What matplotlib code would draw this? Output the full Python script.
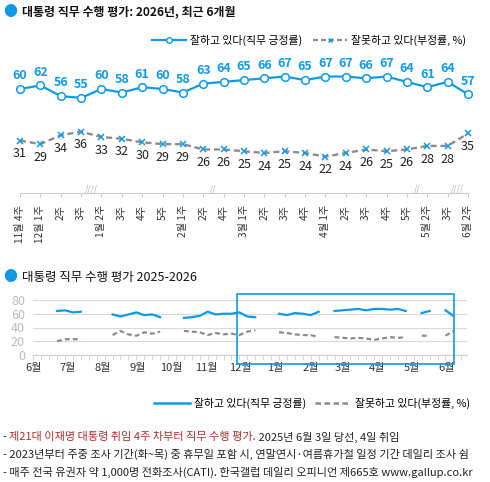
import numpy as np
import pandas as pd
import matplotlib
matplotlib.use('Agg')
import matplotlib.pyplot as plt
import matplotlib.dates as mdates
from matplotlib.lines import Line2D
from matplotlib.patches import Rectangle
from matplotlib.ticker import FixedLocator, FixedFormatter

plt.rcParams['font.family'] = ['Noto Sans CJK KR', 'DejaVu Sans']

BLUE = '#1199e6'
GRAY = '#8c8c8c'
RED = '#a8302f'

# top chart: last 6 months, one point per survey week
week_labels = ['11월 4주', '12월 1주', '2주', '3주', '1월 2주', '3주', '4주', '5주',
               '2월 1주', '2주', '4주', '3월 1주', '2주', '3주', '4주', '4월 1주',
               '2주', '3주', '4주', '5주', '5월 2주', '3주', '6월 2주']
approve = [60, 62, 56, 55, 60, 58, 61, 60, 58, 63, 64, 65, 66, 67, 65, 67, 67, 66, 67, 64, 61, 64, 57]
disapprove = [31, 29, 34, 36, 33, 32, 30, 29, 29, 26, 26, 25, 24, 25, 24, 22, 24, 26, 25, 26, 28, 28, 35]
break_after = [3, 9, 19, 21]      # skipped weeks after these points
break_marks = ['////', '//', '//', '////']

# bottom chart: weekly series from 2025-06-01 (None = no survey)
start_week = '2025-06-01'
approve_all = [None, None, None, 64, 65, 62, 63, None, None, None,
               59, 56, 59, 62, 58, 59, 55, None, None,
               54, 55, 57, 63, 59, 60, 60, 62, 56, 55, None, None,
               60, 58, 61, 60, 58, 63, None,
               64, 65, 66, 67, 65, 67, 67, 66, 67, 64, None,
               61, 64, None, 65, 57]
disapprove_all = [None, None, None, 20, 23, 23, 23, None, None, None,
                  29, 35, 30, 28, 33, 31, 34, None, None,
                  35, 34, 33, 29, 32, 30, 31, 29, 34, 36, None, None,
                  33, 32, 30, 29, 29, 26, None,
                  26, 25, 24, 25, 24, 22, 24, 26, 25, 26, None,
                  28, 28, None, 28, 35]
month_labels = ['6월', '7월', '8월', '9월', '10월', '11월', '12월',
                '1월', '2월', '3월', '4월', '5월', '6월']

notes = [
    [('- ', '#222222'), ('제21대 이재명 대통령 취임 4주 차부터 직무 수행 평가.', RED),
     (' 2025년 6월 3일 당선, 4일 취임', '#222222')],
    [('- 2023년부터 주중 조사 기간(화~목) 중 휴무일 포함 시, 연말연시·여름휴가철 일정 기간 데일리 조사 쉼', '#222222')],
    [('- 매주 전국 유권자 약 1,000명 전화조사(CATI). 한국갤럽 데일리 오피니언 제665호 www.gallup.co.kr', '#222222')],
]

W, H = 490, 482
fig = plt.figure(figsize=(W / 100, H / 100), dpi=100)


def fx(px):
    return px / W


def fy(py):
    return 1 - py / H


# ---- top chart
fig.text(fx(3), fy(12), '●', color=BLUE, fontsize=10, va='center', ha='left')
fig.text(fx(22), fy(12), '대통령 직무 수행 평가: 2026년, 최근 6개월', fontsize=8.6,
         fontweight='bold', va='center', ha='left', color='#111111')

ax1 = fig.add_axes([fx(20), fy(192.5), fx(448), (192.5 - 53.4) / H])
x = np.arange(len(approve))
ax1.plot(x, approve, color=BLUE, lw=1.6, marker='o', ms=5.5, mfc='white', mec=BLUE,
         mew=1.1, clip_on=False, zorder=3)
ax1.plot(x, disapprove, color=GRAY, lw=1.7, ls=(0, (2.6, 1.6)), marker='x', ms=4,
         mec=BLUE, mew=1.1, clip_on=False, zorder=3)
for xi, v in zip(x, approve):
    ax1.annotate(str(v), (xi, v), xytext=(0, 9.5), textcoords='offset points',
                 ha='center', va='center', color=BLUE, fontsize=9, fontweight='bold')
for xi, v in zip(x, disapprove):
    ax1.annotate(str(v), (xi, v), xytext=(0, -9.5), textcoords='offset points',
                 ha='center', va='center', color='#222222', fontsize=9)
ax1.set_xlim(0, 22)
ax1.set_ylim(1.8, 80)
for s in ['top', 'right', 'left']:
    ax1.spines[s].set_visible(False)
ax1.spines['bottom'].set_color('#cccccc')
ax1.set_yticks([])
ax1.set_xticks(x)
ax1.set_xticklabels(week_labels, rotation=90, fontsize=7.3, color='#333333')
ax1.tick_params(axis='x', length=3, color='#cccccc', pad=6)
for b, m in zip(break_after, break_marks):
    ax1.text(b + 0.5, -0.01, m, transform=ax1.get_xaxis_transform(), ha='center',
             va='bottom', fontsize=6, color='#aaaaaa', style='italic')

handles = [
    Line2D([], [], color=BLUE, lw=1.6, marker='o', ms=4, mfc='white', mec=BLUE),
    Line2D([], [], color=GRAY, lw=1.6, ls=(0, (2.2, 1.4)), marker='x', ms=3.5, mec=BLUE),
]
fig.legend(handles, ['잘하고 있다(직무 긍정률)', '잘못하고 있다(부정률, %)'], ncol=2,
           loc='center right', bbox_to_anchor=(fx(476), fy(40)), frameon=False,
           fontsize=7.8, handlelength=3.1, handletextpad=0.4, columnspacing=1.0)

# ---- bottom chart
fig.text(fx(3), fy(277), '●', color=BLUE, fontsize=10, va='center', ha='left')
fig.text(fx(22), fy(277), '대통령 직무 수행 평가 2025-2026', fontsize=9,
         va='center', ha='left', color='#111111')

weeks = pd.date_range(start_week, periods=len(approve_all), freq='7D')
ax2 = fig.add_axes([fx(33.3), fy(355), fx(467 - 33.3), 82 * 0.6875 / H])
ax2.plot(weeks, np.array(approve_all, dtype=float), color=BLUE, lw=1.6)
ax2.plot(weeks, np.array(disapprove_all, dtype=float), color=GRAY, lw=1.6,
         ls=(0, (2.2, 1.4)))
t0 = pd.Timestamp(start_week)
ax2.set_xlim(t0, t0 + pd.Timedelta(days=383))
ax2.set_ylim(0, 82)
ax2.set_yticks([0, 20, 40, 60, 80])
ax2.grid(axis='y', color='#d9d9d9', lw=0.8)
for s in ['top', 'right', 'left']:
    ax2.spines[s].set_visible(False)
ax2.spines['bottom'].set_color('#cccccc')
month_starts = pd.date_range(start_week, periods=len(month_labels), freq='MS')
ax2.xaxis.set_major_locator(FixedLocator(mdates.date2num(month_starts)))
ax2.xaxis.set_major_formatter(FixedFormatter(month_labels))
ax2.xaxis.set_minor_locator(mdates.WeekdayLocator(byweekday=mdates.SU))
ax2.xaxis.remove_overlapping_locs = False
ax2.tick_params(axis='x', which='major', length=0, pad=6, labelsize=8, labelcolor='#333333')
ax2.tick_params(axis='x', which='minor', length=3.5, color='#cccccc')
ax2.tick_params(axis='y', length=0, pad=6, labelsize=9, labelcolor='#bbbbbb')

fig.add_artist(Rectangle((fx(237), fy(364)), fx(454 - 237), (364 - 294) / H,
                         transform=fig.transFigure, fill=False, ec=BLUE, lw=1.2))

handles2 = [Line2D([], [], color=BLUE, lw=1.8),
            Line2D([], [], color=GRAY, lw=1.8, ls=(0, (2.2, 1.4)))]
fig.legend(handles2, ['잘하고 있다(직무 긍정률)', '잘못하고 있다(부정률, %)'], ncol=2,
           loc='center right', bbox_to_anchor=(fx(480), fy(403)), frameon=False,
           fontsize=7.8, handlelength=3.3, handletextpad=0.4, columnspacing=0.8)

# ---- notes, pieces placed one after another
renderer = fig.canvas.get_renderer()
for i, line in enumerate(notes):
    xpos = fx(3)
    for txt, col in line:
        t = fig.text(xpos, fy(437 + i * 17.5), txt, color=col, fontsize=8,
                     va='center', ha='left')
        bb = t.get_window_extent(renderer)
        xpos = bb.x1 / fig.bbox.width

fig.savefig('out.png', dpi=100)
